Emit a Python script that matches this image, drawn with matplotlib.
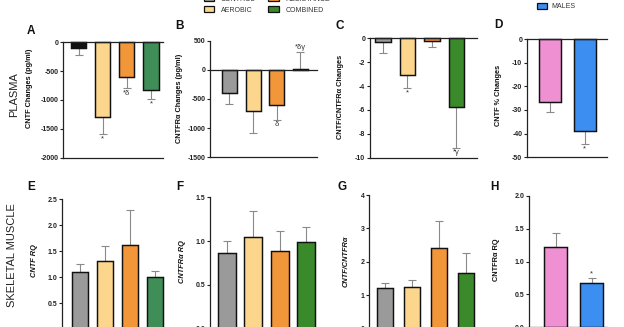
import matplotlib
matplotlib.use("Agg")
import matplotlib.pyplot as plt
from matplotlib.patches import Patch

plt.rcParams['font.family'] = ['Liberation Sans', 'DejaVu Sans']

# ---------------- data ----------------
groups4 = ["CONTROL", "AEROBIC", "RESISTANCE", "COMBINED"]
sexes = ["FEMALES", "MALES"]

A_mean = [-100, -1290, -600, -820]
A_sem = [125, 300, 195, 160]
A_sig = ["", "*", "*δ", "*"]

B_mean = [-400, -700, -600, 10]
B_sem = [180, 380, 260, 300]
B_sig = ["", "", "δ", "*δγ"]

C_mean = [-0.35, -3.05, -0.25, -5.75]
C_sem = [0.85, 1.15, 0.45, 3.4]
C_sig = ["", "*", "", "*γ"]

D_mean = [-26.5, -39.0]
D_sem = [4.5, 5.5]
D_sig = ["", "*"]

E_mean = [1.10, 1.32, 1.62, 1.00]
E_sem = [0.16, 0.29, 0.68, 0.12]

F_mean = [0.87, 1.05, 0.89, 0.99]
F_sem = [0.13, 0.29, 0.22, 0.17]

G_mean = [1.22, 1.25, 2.42, 1.66]
G_sem = [0.16, 0.22, 0.81, 0.60]

H_mean = [1.22, 0.67]
H_sem = [0.22, 0.08]
H_sig = ["", "*"]

# ---------------- styles ----------------
GRAY = "#9a9a9a"
YEL = "#fbd68c"
ORA = "#f2963a"
GRN1 = "#3f8e58"
GRN2 = "#3a8a2b"
PINK = "#ee90d2"
BLUE = "#3c8ef0"
ERRC = "#8a8a8a"

W, H = 624, 327
fig = plt.figure(figsize=(W / 100, H / 100), dpi=100)


def px_axes(left, right, top, bottom):
    return fig.add_axes([left / W, 1 - bottom / H, (right - left) / W, (bottom - top) / H])


def panel(box, means, sems, colors, ylim, yticks, ticklabels, xlim, width, sig=None, zero_line=True):
    ax = px_axes(*box)
    x = list(range(len(means)))
    lower = [s if m < 0 else 0 for m, s in zip(means, sems)]
    upper = [s if m >= 0 else 0 for m, s in zip(means, sems)]
    ax.errorbar(x, means, yerr=[lower, upper], fmt='none', ecolor=ERRC, elinewidth=0.8,
                capsize=2.8, capthick=0.8, zorder=2, clip_on=False)
    ax.bar(x, means, width=width, color=colors, edgecolor="#111111", linewidth=1.05, zorder=3,
           clip_on=False)
    ax.set_ylim(*ylim)
    ax.set_xlim(*xlim)
    ax.set_yticks(yticks)
    ax.set_yticklabels(ticklabels, fontsize=5, fontweight='bold')
    ax.set_xticks([])
    for s in ("top", "right"):
        ax.spines[s].set_visible(False)
    for s in ("left", "bottom"):
        ax.spines[s].set_linewidth(0.9)
        ax.spines[s].set_color("#222222")
    ax.tick_params(axis='y', length=2.2, width=0.8, pad=1.2, colors="#222222")
    if zero_line:
        ax.axhline(0, color="#222222", linewidth=0.9, zorder=4, clip_on=False)
    if sig:
        rng = ylim[1] - ylim[0]
        for xi, m, s, t in zip(x, means, sems, sig):
            if not t:
                continue
            if m < 0:
                ax.text(xi, m - s - 0.012 * rng, t, ha='center', va='top', fontsize=5.5,
                        color="#333333", zorder=5)
            else:
                ax.text(xi, m + s + 0.005 * rng, t, ha='center', va='bottom', fontsize=5.5,
                        color="#333333", zorder=5)
    ax.patch.set_alpha(0)
    return ax


c4a = ["#111111", YEL, ORA, GRN1]
c4 = [GRAY, YEL, ORA, GRN2]

# Row 1: plasma
panel((63, 163, 42.3, 157.7), A_mean, A_sem, c4a, (-2000, 0),
      [0, -500, -1000, -1500, -2000], ["0", "-500", "-1000", "-1500", "-2000"],
      (-0.65, 3.5), 0.63, A_sig)
panel((210, 317, 40.7, 157.2), B_mean, B_sem, c4, (-1500, 500),
      [500, 0, -500, -1000, -1500], ["500", "0", "-500", "-1000", "-1500"],
      (-0.82, 3.7), 0.63, B_sig)
panel((370, 477, 38.3, 157.7), C_mean, C_sem, c4, (-10, 0),
      [0, -2, -4, -6, -8, -10], ["0", "-2", "-4", "-6", "-8", "-10"],
      (-0.53, 3.84), 0.63, C_sig)
panel((527, 607, 39, 157.3), D_mean, D_sem, [PINK, BLUE], (-50, 0),
      [0, -10, -20, -30, -40, -50], ["0", "-10", "-20", "-30", "-40", "-50"],
      (-0.67, 1.65), 0.64, D_sig)

# Row 2: skeletal muscle
panel((62, 165, 199.3, 329.3), E_mean, E_sem, [GRAY, YEL, ORA, GRN1], (0, 2.5),
      [0, 0.5, 1.0, 1.5, 2.0, 2.5], ["0.0", "0.5", "1.0", "1.5", "2.0", "2.5"],
      (-0.72, 3.4), 0.64, None, zero_line=False)
panel((210, 317, 197.3, 328.8), F_mean, F_sem, c4, (0, 1.5),
      [0, 0.5, 1.0, 1.5], ["0.0", "0.5", "1.0", "1.5"],
      (-0.65, 3.42), 0.68, None, zero_line=False)
panel((369, 477, 195, 328.7), G_mean, G_sem, c4, (0, 4),
      [0, 1, 2, 3, 4], ["0", "1", "2", "3", "4"],
      (-0.6, 3.4), 0.6, None, zero_line=False)
panel((529, 607, 196, 327), H_mean, H_sem, [PINK, BLUE], (0, 2.0),
      [0, 0.5, 1.0, 1.5, 2.0], ["0.0", "0.5", "1.0", "1.5", "2.0"],
      (-0.74, 1.43), 0.64, H_sig, zero_line=False)


def ftext(xp, yp, s, **kw):
    fig.text(xp / W, 1 - yp / H, s, **kw)


# y labels
lab = dict(rotation=90, ha='center', va='center', fontsize=5.3, fontweight='bold', color="#111111")
ftext(29.5, 88, "CNTF Changes (pg/ml)", **lab)
ftext(180, 98, "CNTFRα Changes (pg/ml)", **lab)
ftext(341, 97, "CNTF/CNTFRα Changes", **lab)
ftext(498, 95, "CNTF % Changes", **lab)
ftext(35, 261, "CNTF RQ", style='italic', **lab)
ftext(183, 262, "CNTFRα RQ", style='italic', **lab)
ftext(346, 261, "CNTF/CNTFRα", style='italic', **lab)
ftext(497, 260, "CNTFRα RQ", **lab)

# panel letters
let = dict(ha='center', va='center', fontsize=8.5, fontweight='bold', color="#111111")
for s, xp, yp in [("A", 31, 31), ("B", 179, 26), ("C", 340, 26), ("D", 498, 25.5),
                  ("E", 31.5, 187), ("F", 180, 187), ("G", 342, 187), ("H", 494, 187)]:
    ftext(xp, yp, s, **let)

# row labels
ftext(14, 95, "PLASMA", rotation=90, ha='center', va='center', fontsize=8, color="#222222")
ftext(12.5, 255, "SKELETAL MUSCLE", rotation=90, ha='center', va='center', fontsize=8,
      color="#222222")

# legends
h4 = [Patch(facecolor=c, edgecolor="#111111", linewidth=0.9) for c in [GRAY, YEL, ORA, GRN2]]
fig.legend(h4, groups4, ncol=2, loc='lower left', bbox_to_anchor=(204 / W, 1 - 13.5 / H),
           frameon=False, fontsize=5, handlelength=1.5, handleheight=0.9, handletextpad=0.9,
           columnspacing=1.9, borderpad=0, borderaxespad=0, labelspacing=0.5,
           labelcolor="#333333")
h2 = [Patch(facecolor=c, edgecolor="#111111", linewidth=0.9) for c in [PINK, BLUE]]
fig.legend(h2, sexes, ncol=1, loc='lower left', bbox_to_anchor=(537 / W, 1 - 10.5 / H),
           frameon=False, fontsize=5, handlelength=1.4, handleheight=0.9, handletextpad=0.7,
           borderpad=0, borderaxespad=0, labelspacing=0.5, labelcolor="#333333")

fig.savefig("out.png", dpi=100)
